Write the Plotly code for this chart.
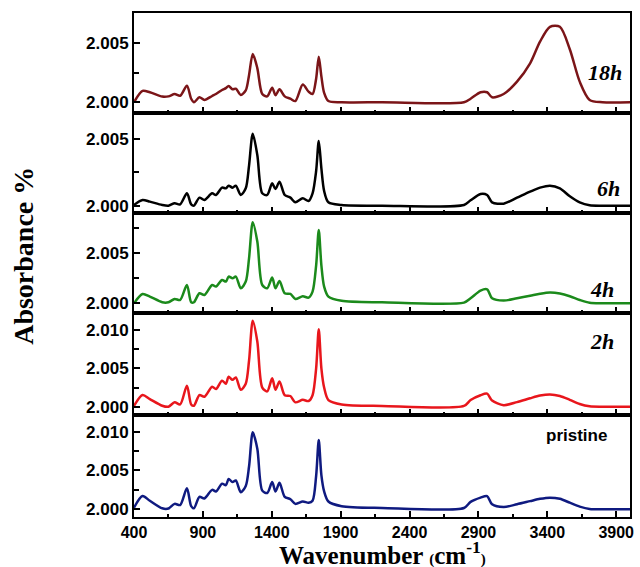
import plotly.graph_objects as go

# Wavenumber grid (cm-1)
wavenumber = [400, 462, 515, 605, 650, 695, 735, 784, 815, 835, 875, 911, 967, 995,
              1039, 1067, 1087, 1115, 1139, 1175, 1211, 1235, 1262, 1295, 1331, 1367,
              1403, 1427, 1456, 1494, 1535, 1571, 1625, 1667, 1696, 1722, 1741, 1760,
              1780, 1811, 1907, 2200, 2795, 2843, 2915, 2963, 2999, 3083, 3180, 3275,
              3347, 3419, 3491, 3563, 3635, 3707, 3800, 4000]

# Absorbance values (%)
abs_18h = [2.00000, 2.00096, 2.00085, 2.00048, 2.00050, 2.00070, 2.00055, 2.00140, 2.00030, 2.00000,
           2.00042, 2.00020, 2.00053, 2.00070, 2.00104, 2.00120, 2.00138, 2.00110, 2.00115, 2.00062,
           2.00100, 2.00230, 2.00410, 2.00290, 2.00070, 2.00050, 2.00124, 2.00060, 2.00110, 2.00050,
           2.00030, 2.00010, 2.00150, 2.00090, 2.00070, 2.00200, 2.00387, 2.00220, 2.00080, 2.00010,
           2.00000, 2.00000, 2.00000, 2.00030, 2.00085, 2.00085, 2.00042, 2.00070, 2.00175, 2.00330,
           2.00514, 2.00640, 2.00640, 2.00450, 2.00175, 2.00020, 2.00000, 2.00000]

abs_6h = [2.00005, 2.000425, 2.00030, 2.00005, 2.00000, 2.000175, 2.00010, 2.000925, 2.00010, 2.00000,
          2.00060, 2.000425, 2.000925, 2.00080, 2.00135, 2.00130, 2.00150, 2.00135, 2.00150, 2.00080,
          2.00130, 2.00300, 2.00540, 2.00380, 2.000925, 2.00080, 2.001675, 2.00125, 2.00180, 2.00080,
          2.00060, 2.00025, 2.00055, 2.00035, 2.000925, 2.00260, 2.00485, 2.00280, 2.00110, 2.00025,
          2.00005, 2.00000, 2.00005, 2.00040, 2.000875, 2.00080, 2.00025, 2.00015, 2.00060, 2.00105,
          2.00135, 2.00150, 2.00130, 2.00070, 2.00025, 2.00003, 2.00000, 2.00000]

abs_4h = [2.00000, 2.00093, 2.00067, 2.00010, 2.00010, 2.00043, 2.00033, 2.00183, 2.00010, 2.00010,
          2.00100, 2.00083, 2.00183, 2.00167, 2.00233, 2.00217, 2.00267, 2.00250, 2.00267, 2.00150,
          2.00217, 2.00450, 2.00810, 2.00617, 2.00183, 2.00150, 2.00257, 2.00150, 2.00223, 2.00100,
          2.00093, 2.00043, 2.00070, 2.00057, 2.00117, 2.00380, 2.00733, 2.00380, 2.00167, 2.00067,
          2.00025, 2.00010, 2.00007, 2.00050, 2.00127, 2.00140, 2.00050, 2.00027, 2.00050, 2.00075,
          2.00095, 2.00107, 2.00097, 2.00070, 2.00033, 2.00005, 2.00000, 2.00000]

abs_2h = [2.00010, 2.00152, 2.00100, 2.00013, 2.00000, 2.00057, 2.00030, 2.00274, 2.00030, 2.00013,
          2.00152, 2.00130, 2.00260, 2.00230, 2.00340, 2.00300, 2.00390, 2.00350, 2.00380, 2.00220,
          2.00300, 2.00600, 2.01120, 2.00850, 2.00250, 2.00200, 2.00370, 2.00220, 2.00330, 2.00150,
          2.00140, 2.00057, 2.00090, 2.00074, 2.00150, 2.00500, 2.01010, 2.00500, 2.00250, 2.00087,
          2.00030, 2.00010, 2.00010, 2.00087, 2.00150, 2.00170, 2.00080, 2.00020, 2.00060, 2.00110,
          2.00145, 2.00160, 2.00140, 2.00090, 2.00035, 2.00005, 2.00000, 2.00000]

abs_pristine = [2.00020, 2.00170, 2.00110, 2.00013, 2.00010, 2.00070, 2.00055, 2.00270, 2.00040, 2.00013,
                2.00160, 2.00140, 2.00250, 2.00230, 2.00330, 2.00310, 2.00390, 2.00350, 2.00370, 2.00220,
                2.00300, 2.00550, 2.00990, 2.00780, 2.00240, 2.00210, 2.00350, 2.00230, 2.00340, 2.00160,
                2.00130, 2.00070, 2.00100, 2.00084, 2.00110, 2.00430, 2.00890, 2.00440, 2.00230, 2.00100,
                2.00040, 2.00017, 2.00017, 2.00095, 2.00150, 2.00170, 2.00065, 2.00030, 2.00065, 2.00105,
                2.00135, 2.00150, 2.00135, 2.00085, 2.00035, 2.00005, 2.00000, 2.00000]

series = [
    ("18h", abs_18h, "#7b1518", [1.99909, 2.00757]),
    ("6h", abs_6h, "#000000", [1.99945, 2.00695]),
    ("4h", abs_4h, "#1b8a1b", [1.99903, 2.00903]),
    ("2h", abs_2h, "#e8161c", [1.99892, 2.01222]),
    ("pristine", abs_pristine, "#0f1a80", [1.99901, 2.01213]),
]

# panel boundaries in paper fractions (top to bottom)
bounds = [1.0, 0.8016, 0.6032, 0.4048, 0.2024, 0.0]

fig = go.Figure()
tickfont = dict(family="Liberation Sans, Arial", size=17, color="black", weight="bold")
xtickfont = dict(family="Liberation Sans, Arial", size=16, color="black", weight="bold")

for i, (name, vals, color, yr) in enumerate(series):
    n = i + 1
    xa = "x" if n == 1 else f"x{n}"
    ya = "y" if n == 1 else f"y{n}"
    fig.add_trace(go.Scatter(x=wavenumber, y=vals, mode="lines", name=name,
                             line=dict(color=color, width=2.5, shape="spline", smoothing=0.8),
                             xaxis=xa, yaxis=ya, showlegend=False))
    xkey = "xaxis" if n == 1 else f"xaxis{n}"
    ykey = "yaxis" if n == 1 else f"yaxis{n}"
    fig.layout[xkey] = dict(
        domain=[0, 1], anchor=ya, range=[400, 4000], tick0=400, dtick=500,
        ticks="inside", ticklen=6, tickwidth=2, tickcolor="black",
        showticklabels=(n == 5), tickfont=xtickfont,
        showline=True, linewidth=2, linecolor="black", mirror=True,
        showgrid=False, zeroline=False,
        minor=dict(ticks="inside", ticklen=3, tickwidth=2, tickcolor="black", dtick=250, tick0=400, showgrid=False),
    )
    fig.layout[ykey] = dict(
        domain=[bounds[i + 1], bounds[i]], anchor=xa, range=yr, tick0=2.0, dtick=0.005,
        tickformat=".3f", ticks="inside", ticklen=6, tickwidth=2, tickcolor="black",
        tickfont=tickfont, showline=True, linewidth=2, linecolor="black", mirror=True,
        showgrid=False, zeroline=False,
        minor=dict(ticks="inside", ticklen=5, tickwidth=2, tickcolor="black", dtick=0.0025, tick0=2.0, showgrid=False),
    )

labels = [("18h", 0.988, 0.881), ("6h", 0.984, 0.652), ("4h", 0.972, 0.452), ("2h", 0.972, 0.349)]
for txt, x, y in labels:
    fig.add_annotation(text=txt, x=x, y=y, xref="paper", yref="paper", xanchor="right", yanchor="middle",
                       showarrow=False,
                       font=dict(family="Liberation Serif, Times New Roman", size=22, color="black",
                                 weight="bold", style="italic"))
fig.add_annotation(text="pristine", x=0.958, y=0.161, xref="paper", yref="paper", xanchor="right",
                   yanchor="middle", showarrow=False,
                   font=dict(family="Liberation Sans, Arial", size=17, color="black", weight="bold"))

titlefont = dict(family="Liberation Serif, Times New Roman", size=28, color="black", weight="bold")
fig.add_annotation(text="Absorbance %", x=-0.222, y=0.518, xref="paper", yref="paper", textangle=-90,
                   xanchor="center", yanchor="middle", showarrow=False, font=titlefont)
fig.add_annotation(text="Wavenumber <span style='font-size:15px'>(</span>cm<sup>-1</sup><span style='font-size:15px'>)</span>",
                   x=0.502, y=-0.0712, xref="paper", yref="paper", xanchor="center", yanchor="middle",
                   showarrow=False, font=dict(family="Liberation Serif, Times New Roman", size=25,
                                              color="black", weight="bold"))

fig.update_layout(width=640, height=567, margin=dict(l=134, r=6, t=13, b=50),
                  paper_bgcolor="white", plot_bgcolor="white")

fig.write_html("out.html")
